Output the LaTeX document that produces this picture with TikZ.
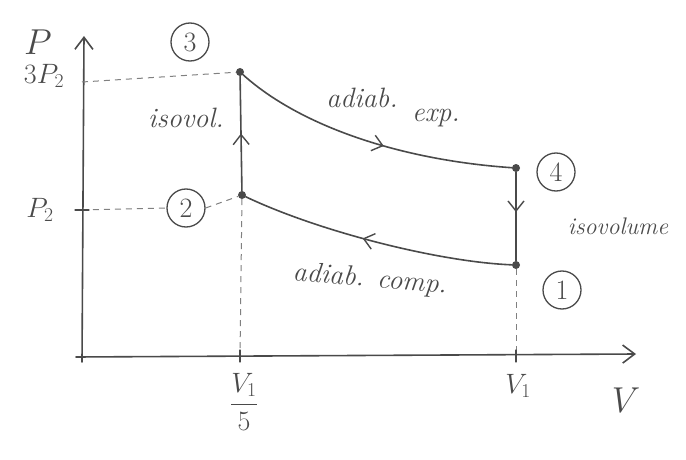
\RequirePackage{fix-cm}
\documentclass[tikz,border=0pt]{standalone}
\usepackage{fontspec}
\usetikzlibrary{arrows.meta,decorations.markings,positioning}
\definecolor{pencil}{HTML}{4A4A4A}
\tikzset{
  pen/.style={draw=pencil,line width=1.6pt,line cap=round},
  guide/.style={draw=pencil!70,line width=1pt,dash pattern=on 6pt off 5pt},
  state/.style={circle,draw=pencil,line width=1.3pt,minimum size=38pt,inner sep=0pt,
    text=pencil,font=\fontsize{28}{32}\selectfont},
  statedot/.style={circle,fill=pencil,minimum size=8pt,inner sep=0pt},
  lbl/.style={text=pencil,font=\fontsize{28}{32}\selectfont\itshape,inner sep=1pt},
  biglbl/.style={lbl,font=\fontsize{36}{40}\selectfont},
  midarrow/.style={postaction={decorate},decoration={markings,
    mark=at position #1 with {\arrow[pencil,line width=1.4pt]{Straight Barb[length=10pt,width=16pt]}}}}
}
\begin{document}
\begin{tikzpicture}[x=1pt,y=-1pt]
  \useasboundingbox (0,0) rectangle (686,460);

  % Axes
  \coordinate (o) at (82,356);
  \coordinate (ytop) at (84,36);
  \coordinate (xend) at (636,354);
  \draw[pen,-{Straight Barb[length=12pt,width=18pt]}] (82,362) -- (ytop);
  \draw[pen,-{Straight Barb[length=12pt,width=18pt]}] (76,357) -- (xend);
  \node[biglbl] (plabel) at (38,42) {$P$};
  \node[biglbl] (vlabel) at (626,400) {$V$};

  % States
  \node[statedot] (p3) at (240,72) {};
  \node[statedot] (p2) at (242,195) {};
  \node[statedot] (p4) at (516,168) {};
  \node[statedot] (p1) at (516,265) {};
  \node[state] (n3) at (190,42) {3};
  \node[state] (n2) at (186,208) {2};
  \node[state] (n4) at (556,172) {4};
  \node[state] (n1) at (562,290) {1};

  % Guide lines
  \coordinate (y3) at (82,82);
  \coordinate (y2) at (82,210);
  \coordinate (xa) at (240,356);
  \coordinate (xb) at (516,356);
  \draw[guide] (y3) -- (p3);
  \draw[guide] (y2) -- (n2.west) (n2.east) -- (p2);
  \draw[guide] (p2) -- (xa);
  \draw[guide] (p1) -- (xb);
  \draw[pen,line width=1.2pt] (75,210) -- (89,210);
  \draw[pen,line width=1.2pt] (240,350) -- (240,362);
  \draw[pen,line width=1.2pt] (516,350) -- (516,362);

  % Cycle
  \draw[pen,midarrow=0.5] (p2) -- (p3);
  \draw[pen,midarrow=0.55] (p3) .. controls (300,126) and (400,160) .. (p4);
  \draw[pen,midarrow=0.45] (p4) -- (p1);
  \draw[pen,midarrow=0.55] (p1) .. controls (440,262) and (320,232) .. (p2);

  % Labels
  \node[lbl] (l3p) at (44,76) {$3P_2$};
  \node[lbl] (l2p) at (40,210) {$P_2$};
  \node[lbl] (isov) at (186,118) {isovol.};
  \node[lbl] (aexp) at (362,98) {adiab.};
  \node[lbl] (aexp2) at (436,118) {exp.};
  \node[lbl,font=\fontsize{24}{28}\selectfont\itshape] (isovume) at (618,226) {isovolume};
  \node[lbl,rotate=-5] (acomp) at (370,280) {adiab. comp.};
  \node[lbl] (v15) at (244,402) {$\displaystyle\frac{V_1}{5}$};
  \node[lbl] (v1) at (518,386) {$V_1$};
\end{tikzpicture}
\end{document}
